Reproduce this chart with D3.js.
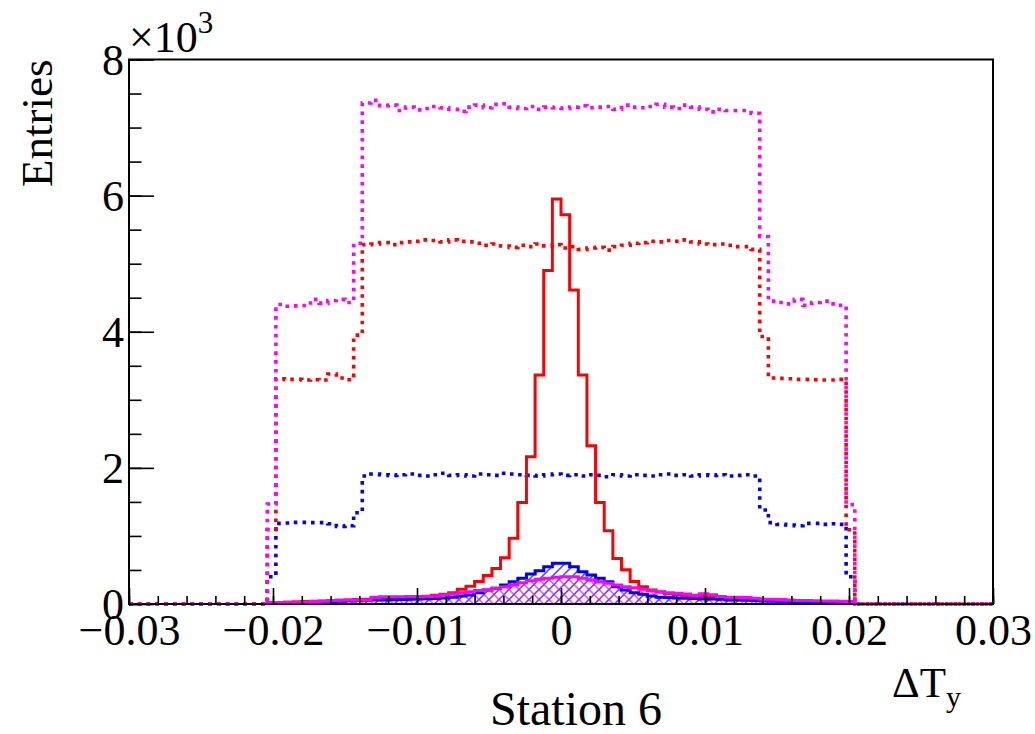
<!DOCTYPE html>
<html>
<head>
<meta charset="utf-8">
<script src="https://cdn.jsdelivr.net/npm/d3@7"></script>
<style>
  body { margin: 0; background: #fff; }
  svg text { font-family: "Liberation Serif", "Times New Roman", serif; fill: #000; }
</style>
</head>
<body>
<div id="chart"></div>
<script>
// histogram binning: 68 filled bins of 0.0006 starting at -0.0204
var binStart = -0.0204;
var binWidth = 0.0006;

// dotted histograms
var magentaDotted = [1470,
  4400, 4375, 4380, 4385, 4475, 4420, 4460, 4475, 4430,
  5300,
  7360, 7400, 7320, 7330, 7250, 7300, 7260, 7280, 7310, 7290,
  7270, 7240, 7300, 7330, 7290, 7340, 7350, 7300, 7280, 7310,
  7270, 7300, 7290, 7280, 7300, 7320, 7290, 7300, 7310, 7270,
  7330, 7300, 7290, 7310, 7340, 7300, 7280, 7330, 7300, 7270,
  7230, 7270, 7250, 7250, 7250, 7210,
  5400,
  4450, 4430, 4410, 4475, 4390, 4430, 4450, 4410, 4390,
  1460];

var redDotted = [1090,
  3310, 3300, 3300, 3290, 3295, 3290, 3380, 3320, 3295,
  3950,
  5280, 5290, 5310, 5280, 5310, 5320, 5330,
  5350, 5340, 5320, 5350, 5330, 5320,
  5300, 5270, 5290, 5260, 5240, 5270, 5250, 5290, 5260, 5280,
  5230, 5250, 5210, 5230, 5240, 5200, 5250, 5270,
  5300, 5310, 5330, 5320, 5340, 5330, 5350,
  5320, 5290, 5280, 5290, 5270, 5250, 5250, 5210,
  3930,
  3320, 3315, 3310, 3300, 3300, 3295, 3290, 3290, 3300,
  1090];

var blueDotted = [400,
  1185, 1190, 1200, 1200, 1195, 1195, 1180, 1140, 1150,
  1340,
  1880, 1910, 1900, 1890, 1900, 1910, 1890, 1880, 1900, 1920,
  1890, 1900, 1880, 1910, 1900, 1890, 1920, 1910, 1900, 1890,
  1880, 1900, 1910, 1890, 1900, 1880, 1900, 1890, 1870, 1900,
  1880, 1900, 1890, 1880, 1900, 1910, 1890, 1900, 1880, 1900,
  1890, 1900, 1880, 1890, 1900, 1880,
  1380,
  1195, 1170, 1160, 1150, 1185, 1185, 1170, 1180, 1170,
  400];

// solid histograms
var redSolid = [15, 20, 25, 30, 35, 40, 45, 50, 55, 60,
  65, 70, 75, 80, 90, 95, 100, 105, 115, 130,
  145, 165, 215, 260, 330, 420, 520, 680, 965, 1490,
  2165, 3365, 4900, 5950, 5720, 4615, 3365, 2325, 1490, 1075,
  670, 505, 330, 255, 205, 175, 155, 140, 130, 120,
  115, 105, 100, 90, 80, 75, 70, 65, 60, 55,
  50, 45, 40, 35, 30, 25, 20, 15];

var blueSolid = [15, 18, 20, 22, 25, 28, 32, 36, 40, 45,
  50, 55, 58, 60, 62, 65, 70, 75, 78, 80,
  88, 98, 117, 132, 166, 206, 230, 279, 328, 377,
  441, 489, 548, 598, 598, 548, 475, 426, 377, 328,
  254, 206, 166, 142, 117, 98, 95, 88, 85, 79,
  75, 72, 68, 60, 58, 55, 50, 45, 40, 35,
  32, 28, 25, 22, 20, 18, 16, 14];

var magentaSolid = [20, 22, 25, 28, 30, 35, 40, 50, 55, 60,
  62, 60, 100, 105, 107, 108, 110, 105, 110, 117,
  132, 147, 166, 181, 200, 206, 230, 254, 279, 313,
  343, 363, 377, 392, 401, 401, 377, 353, 328, 304,
  279, 254, 240, 216, 196, 181, 166, 157, 147, 130,
  150, 135, 110, 100, 98, 95, 85, 70, 68, 65,
  60, 50, 50, 48, 45, 45, 40, 35];

// axis ticks
var xTicks = [-0.03, -0.02, -0.01, 0, 0.01, 0.02, 0.03];
var xTickLabels = ["\u22120.03", "\u22120.02", "\u22120.01", "0", "0.01", "0.02", "0.03"];
var yTicks = [0, 2000, 4000, 6000, 8000];
var yTickLabels = ["0", "2", "4", "6", "8"];

var serif = "'Liberation Serif', 'Times New Roman', serif";

var W = 1035, H = 734;
var margin = { top: 59.5, right: 42, bottom: 130, left: 129 };
var width = W - margin.left - margin.right;
var height = H - margin.top - margin.bottom;

var svg = d3.select("#chart").append("svg")
  .attr("width", W)
  .attr("height", H);

var defs = svg.append("defs");

defs.append("clipPath").attr("id", "plot-clip")
  .append("rect")
  .attr("x", -2)
  .attr("y", -2)
  .attr("width", width + 4)
  .attr("height", height + 4);

// hatch patterns: blue "/" and magenta "\"
function hatch(id, color, forward) {
  var s = 10;
  var p = defs.append("pattern")
    .attr("id", id)
    .attr("patternUnits", "userSpaceOnUse")
    .attr("width", s)
    .attr("height", s);
  var d = forward
    ? "M0," + s + "L" + s + ",0M-2,2L2,-2M" + (s - 2) + "," + (s + 2) + "L" + (s + 2) + "," + (s - 2)
    : "M0,0L" + s + "," + s + "M-2," + (s - 2) + "L2," + (s + 2) + "M" + (s - 2) + ",-2L" + (s + 2) + ",2";
  p.append("path")
    .attr("d", d)
    .attr("stroke", color)
    .attr("stroke-width", 1.2)
    .attr("fill", "none");
}
hatch("hatch-blue", "#0000ff", true);
hatch("hatch-magenta", "#ff00ff", false);

var g = svg.append("g")
  .attr("transform", "translate(" + margin.left + "," + margin.top + ")");

var x = d3.scaleLinear().domain([-0.03, 0.03]).range([0, width]);
var y = d3.scaleLinear().domain([0, 8000]).range([height, 0]);

// build step points for a histogram
function steps(values, fullRange) {
  var pts = [];
  if (fullRange) pts.push([x.domain()[0], 0]);
  pts.push([binStart, 0]);
  values.forEach(function(v, i) {
    pts.push([binStart + i * binWidth, v]);
  });
  var end = binStart + values.length * binWidth;
  pts.push([end, values[values.length - 1]]);
  pts.push([end, 0]);
  if (fullRange) pts.push([x.domain()[1], 0]);
  return pts;
}

var stepLine = d3.line()
  .x(function(d) { return x(d[0]); })
  .y(function(d) { return y(d[1]); })
  .curve(d3.curveStepAfter);

var plot = g.append("g").attr("clip-path", "url(#plot-clip)");

// dotted histograms
var dotted = [
  { values: blueDotted, color: "#0000ff" },
  { values: redDotted, color: "#ff0000" },
  { values: magentaDotted, color: "#ff00ff" }
];
dotted.forEach(function(h) {
  plot.append("path")
    .attr("d", stepLine(steps(h.values, true)))
    .attr("fill", "none")
    .attr("stroke", h.color)
    .attr("stroke-width", 3.6)
    .attr("stroke-dasharray", "3.6,5.2");
});

// hatched fills
plot.append("path")
  .attr("d", stepLine(steps(blueSolid, false)))
  .attr("fill", "url(#hatch-blue)")
  .attr("stroke", "none");
plot.append("path")
  .attr("d", stepLine(steps(magentaSolid, false)))
  .attr("fill", "url(#hatch-magenta)")
  .attr("stroke", "none");

// solid outlines
var solid = [
  { values: redSolid, color: "#ff0000" },
  { values: blueSolid, color: "#0000ff" },
  { values: magentaSolid, color: "#ff00ff" }
];
solid.forEach(function(h) {
  plot.append("path")
    .attr("d", stepLine(steps(h.values, false)))
    .attr("fill", "none")
    .attr("stroke", h.color)
    .attr("stroke-width", 3);
});

// axes (ticks inside the frame, ROOT style)
var xMinor = d3.range(-0.03, 0.0301, 0.002);
var yMinor = d3.range(0, 8001, 500);

var xAxisMinor = d3.axisBottom(x).tickValues(xMinor).tickSize(-8).tickFormat("");
var xAxis = d3.axisBottom(x).tickValues(xTicks).tickSize(-16)
  .tickFormat(function(d, i) { return xTickLabels[i]; });
var yAxisMinor = d3.axisLeft(y).tickValues(yMinor).tickSize(-12.5).tickFormat("");
var yAxis = d3.axisLeft(y).tickValues(yTicks).tickSize(-25)
  .tickFormat(function(d, i) { return yTickLabels[i]; });

function styleAxis(sel) {
  sel.attr("font-family", null).attr("font-size", null);
  sel.select(".domain").remove();
  sel.selectAll("line").attr("stroke", "#000").attr("stroke-width", 1.6);
  sel.selectAll("text")
    .style("font-family", serif)
    .style("font-size", "44px")
    .attr("fill", "#000");
}

g.append("g").attr("transform", "translate(0," + height + ")").call(xAxisMinor).call(styleAxis);
var xg = g.append("g").attr("transform", "translate(0," + height + ")").call(xAxis).call(styleAxis);
xg.selectAll("text").attr("y", 41).attr("dy", null);

g.append("g").call(yAxisMinor).call(styleAxis);
var yg = g.append("g").call(yAxis).call(styleAxis);
yg.selectAll("text").attr("x", -5).attr("dy", "0.34em");

// frame
g.append("rect")
  .attr("width", width)
  .attr("height", height)
  .attr("fill", "none")
  .attr("stroke", "#000")
  .attr("stroke-width", 2);

// axis exponent
var expo = g.append("text")
  .attr("x", 0)
  .attr("y", -8)
  .style("font-size", "44px");
expo.append("tspan").text("\u00d710");
expo.append("tspan").attr("dy", -19).style("font-size", "31px").text("3");

// titles
svg.append("text")
  .attr("transform", "translate(52," + margin.top + ") rotate(-90)")
  .attr("text-anchor", "end")
  .style("font-size", "45px")
  .text("Entries");

var xt = svg.append("text")
  .attr("x", 892)
  .attr("y", 697)
  .style("font-size", "43px");
xt.append("tspan").text("\u0394T");
xt.append("tspan").attr("dy", 10).style("font-size", "30px").text("y");

svg.append("text")
  .attr("x", 576)
  .attr("y", 725)
  .attr("text-anchor", "middle")
  .style("font-size", "48px")
  .text("Station 6");
</script>
</body>
</html>
